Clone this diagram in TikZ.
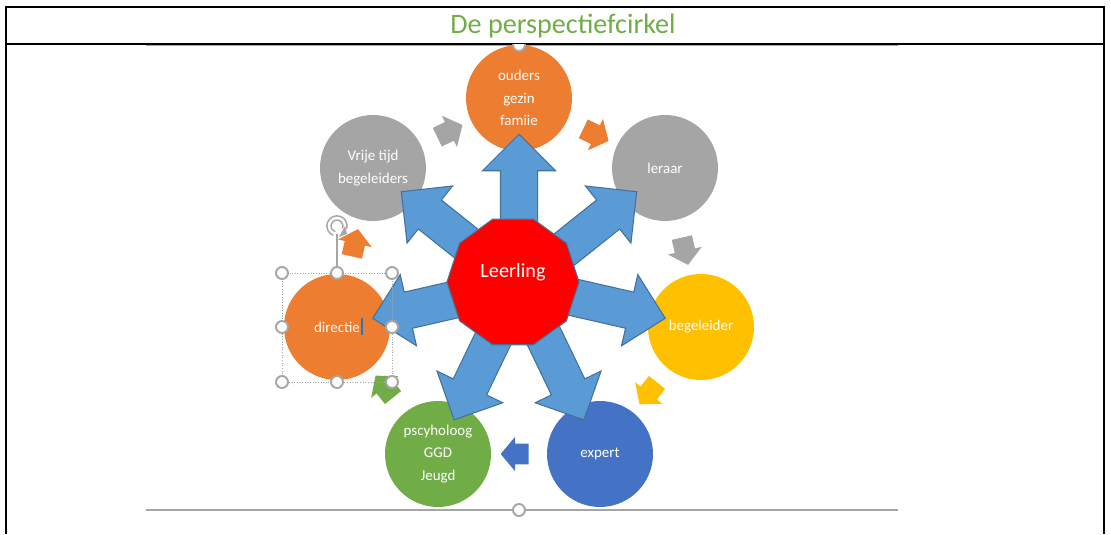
\documentclass[tikz,border=0pt]{standalone}
\usepackage{fontspec}
\setmainfont{Carlito}
\usetikzlibrary{shapes.geometric,shapes.arrows,arrows.meta}

\definecolor{oranje}{HTML}{ED7D31}
\definecolor{grijs}{HTML}{A5A5A5}
\definecolor{geel}{HTML}{FFC000}
\definecolor{blauw}{HTML}{4472C4}
\definecolor{groen}{HTML}{70AD47}
\definecolor{titelgroen}{HTML}{6FAD47}
\definecolor{pijlblauw}{HTML}{5B9BD5}
\definecolor{pijlrand}{HTML}{41719C}
\definecolor{handvatgrijs}{HTML}{A6A6A6}
\definecolor{cursorblauw}{HTML}{2E75B6}

\tikzset{
  cirkel/.style={circle, minimum size=2.12cm, inner sep=0pt, text=white, align=center,
                 font=\fontsize{8.5}{12.8}\selectfont},
  grotepijl/.style={single arrow, fill=pijlblauw, draw=pijlrand, line width=0.6pt,
                 minimum height=2.02cm, inner xsep=0pt, inner ysep=0.36cm,
                 single arrow head extend=0.36cm, single arrow tip angle=90},
  kleinepijl/.style={single arrow, minimum height=0.56cm, inner xsep=0pt, inner ysep=0.2cm,
                 single arrow head extend=0.14cm, single arrow tip angle=100},
  handvat/.style={circle, draw=handvatgrijs, fill=white, line width=1.1pt,
                 minimum size=0.24cm, inner sep=0pt}
}

\begin{document}
\begin{tikzpicture}[x=0.02cm, y=0.02cm]
    \useasboundingbox (0,0) rectangle (1111,534);

    % tabel
    \draw[line width=1.1pt] (6,0) -- (6,527) -- (1104,527) -- (1104,0);
    \draw[line width=1.1pt] (6,490) -- (1104,490);
    \node[font=\fontsize{16}{19}\selectfont, text=titelgroen] (titel) at (563,508) {De perspectiefcirkel};

    % kader van het diagram
    \draw[handvatgrijs, line width=0.8pt] (146,488.7) -- (898,488.7);
    \draw[handvatgrijs, line width=0.8pt] (146,24) -- (898,24);

    % cirkels
    \node[cirkel, fill=oranje] (ouders) at (519,436) {ouders\\gezin\\famiie};
    \node[cirkel, fill=grijs] (leraar) at (665,366) {leraar};
    \node[cirkel, fill=geel] (begeleider) at (701,207) {begeleider};
    \node[cirkel, fill=blauw] (expert) at (600,80) {expert};
    \node[cirkel, fill=groen] (psycholoog) at (438,80) {pscyholoog\\GGD\\Jeugd};
    \node[cirkel, fill=oranje] (directie) at (337,207) {directie};
    \node[cirkel, fill=grijs] (vrijetijd) at (373,366) {Vrije tijd\\begeleiders};

    % grote pijlen vanuit het midden
    \node[grotepijl, rotate=90] (pijlouders) at (519,340) {};
    \node[grotepijl, rotate=38.57] (pijlleraar) at (590,305) {};
    \node[grotepijl, rotate=-12.86] (pijlbegeleider) at (607,229) {};
    \node[grotepijl, rotate=-64.29] (pijlexpert) at (558,168) {};
    \node[grotepijl, rotate=-115.71] (pijlpsycholoog) at (480,168) {};
    \node[grotepijl, rotate=-167.14] (pijldirectie) at (431,229) {};
    \node[grotepijl, rotate=141.43] (pijlvrijetijd) at (448,305) {};

    \node[regular polygon, regular polygon sides=10, minimum size=2.64cm,
          fill=red, draw=pijlrand, line width=0.6pt] (leerling) at (513,252) {};
    \node[text=white, font=\fontsize{11.5}{14}\selectfont] (leerlingtekst) at (513,262) {Leerling};

    % kleine pijlen tussen de cirkels
    \node[kleinepijl, fill=oranje, rotate=-25.71] (stap1) at (592,401) {};
    \node[kleinepijl, fill=grijs, rotate=-77.14] (stap2) at (684,287) {};
    \node[kleinepijl, fill=geel, rotate=-128.57] (stap3) at (651,144) {};
    \node[kleinepijl, fill=blauw, rotate=180] (stap4) at (519,80) {};
    \node[kleinepijl, fill=groen, rotate=128.57] (stap5) at (387,144) {};
    \node[kleinepijl, fill=oranje, rotate=77.14] (stap6) at (354,287) {};
    \node[kleinepijl, fill=grijs, rotate=25.71] (stap7) at (446,401) {};

    % selectie rond directie
    \draw[handvatgrijs, densely dotted, line width=0.5pt] (282,261) rectangle (392,152);
    \draw[handvatgrijs, line width=0.9pt] (337,261) -- (337,300);
    \draw[handvatgrijs, line width=0.9pt, double=white, double distance=1.4pt]
        (344.5,305.3) arc[start angle=-20, end angle=250, radius=8];
    \fill[handvatgrijs] (347,300) -- (339,297) -- (345,308) -- cycle;
    \draw[cursorblauw, line width=1.3pt] (362,216) -- (362,199);

    \node[handvat] (h1) at (282,261) {};
    \node[handvat] (h2) at (337,261) {};
    \node[handvat] (h3) at (392,261) {};
    \node[handvat] (h4) at (282,207) {};
    \node[handvat] (h5) at (392,207) {};
    \node[handvat] (h6) at (282,152) {};
    \node[handvat] (h7) at (337,152) {};
    \node[handvat] (h8) at (392,152) {};

    \node[handvat] (hondergrens) at (519,24) {};
    \begin{scope}
        \clip (146,489) rectangle (898,470);
        \node[handvat] (hbovengrens) at (519,489) {};
    \end{scope}
\end{tikzpicture}
\end{document}
